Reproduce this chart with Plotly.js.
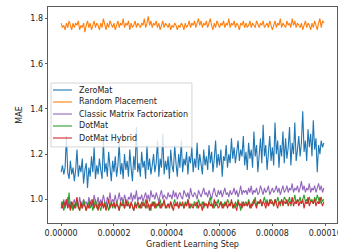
<!DOCTYPE html>
<html>
<head>
<meta charset="utf-8">
<script src="https://cdn.plot.ly/plotly-3.0.1.min.js"></script>
<style>html,body{margin:0;padding:0;background:#fff;}#chart{width:338px;height:252px;}</style>
</head>
<body>
<div id="chart"></div>
<script>
var seriesNames = ["ZeroMat", "Random Placement", "Classic Matrix Factorization", "DotMat", "DotMat Hybrid"];
var stepSize = 5e-7;

var zeroMat = [
1.12,1.15,1.11,1.14,1.28,1.12,1.09,1.17,1.11,1.14,
1.08,1.13,1.22,1.10,1.15,1.12,1.18,1.07,1.13,1.16,
1.05,1.14,1.10,1.19,1.12,1.23,1.09,1.15,1.11,1.18,
1.13,1.09,1.26,1.12,1.16,1.10,1.21,1.14,1.08,1.17,
1.12,1.19,1.10,1.15,1.25,1.11,1.16,1.09,1.20,1.13,
1.17,1.10,1.22,1.14,1.08,1.19,1.13,1.32,1.12,1.16,
1.10,1.21,1.14,1.17,1.09,1.24,1.13,1.18,1.11,1.15,
1.20,1.12,1.16,1.26,1.10,1.18,1.14,1.29,1.11,1.17,
1.13,1.19,1.09,1.22,1.15,1.12,1.24,1.16,1.10,1.20,
1.14,1.26,1.12,1.18,1.15,1.21,1.11,1.19,1.16,1.23,
1.12,1.18,1.14,1.25,1.13,1.20,1.16,1.11,1.22,1.15,
1.19,1.13,1.24,1.16,1.21,1.12,1.18,1.26,1.14,1.20,
1.15,1.22,1.10,1.19,1.17,1.24,1.14,1.20,1.16,1.27,
1.18,1.23,1.16,1.21,1.26,1.17,1.22,1.19,1.28,1.15,
1.21,1.13,1.25,1.18,1.22,1.14,1.30,1.19,1.24,1.12,
1.20,1.27,1.16,1.33,1.19,1.24,1.13,1.22,1.28,1.17,
1.23,1.15,1.34,1.20,1.26,1.14,1.24,1.19,1.30,1.16,
1.27,1.18,1.23,1.32,1.15,1.25,1.20,1.34,1.17,1.22,
1.28,1.19,1.25,1.39,1.21,1.26,1.17,1.31,1.23,1.29,
1.19,1.35,1.22,1.27,1.12,1.24,1.20,1.26,1.23,1.25];

var randomPlacement = [
1.78,1.76,1.77,1.75,1.78,1.76,1.79,1.77,1.75,1.78,
1.76,1.78,1.77,1.79,1.75,1.77,1.76,1.78,1.74,1.77,
1.79,1.76,1.78,1.75,1.77,1.79,1.76,1.78,1.77,1.75,
1.78,1.76,1.80,1.77,1.75,1.78,1.76,1.79,1.77,1.76,
1.78,1.75,1.77,1.79,1.76,1.78,1.77,1.80,1.76,1.78,
1.77,1.79,1.75,1.78,1.76,1.77,1.79,1.76,1.78,1.77,
1.76,1.78,1.77,1.80,1.76,1.78,1.81,1.77,1.79,1.76,
1.78,1.77,1.79,1.76,1.78,1.75,1.77,1.79,1.76,1.78,
1.77,1.76,1.78,1.75,1.77,1.76,1.78,1.77,1.75,1.77,
1.76,1.78,1.77,1.75,1.78,1.76,1.77,1.79,1.76,1.78,
1.77,1.79,1.76,1.78,1.80,1.77,1.79,1.76,1.78,1.77,
1.79,1.76,1.78,1.80,1.77,1.75,1.78,1.76,1.79,1.77,
1.76,1.78,1.77,1.79,1.76,1.78,1.77,1.80,1.76,1.78,
1.77,1.79,1.76,1.78,1.77,1.75,1.78,1.77,1.79,1.76,
1.78,1.76,1.77,1.79,1.76,1.78,1.77,1.76,1.79,1.77,
1.76,1.78,1.77,1.79,1.76,1.77,1.78,1.76,1.79,1.77,
1.75,1.77,1.79,1.76,1.78,1.77,1.80,1.76,1.78,1.77,
1.76,1.79,1.77,1.78,1.76,1.80,1.77,1.79,1.76,1.78,
1.77,1.76,1.78,1.75,1.77,1.79,1.76,1.78,1.77,1.75,
1.78,1.76,1.79,1.77,1.75,1.78,1.80,1.76,1.79,1.78];

var classicMF = [
0.99,0.97,1.00,0.96,0.98,1.01,0.97,0.99,0.96,0.98,
1.00,0.97,0.99,0.96,1.01,0.98,0.97,1.00,0.98,0.99,
0.97,1.01,0.98,1.00,0.97,1.02,0.99,0.98,1.01,0.97,
1.00,0.98,1.02,0.99,0.97,1.01,0.99,1.03,0.98,1.00,
0.99,1.02,0.98,1.00,1.03,0.99,1.01,0.98,1.02,1.00,
0.98,1.01,1.00,1.03,0.99,1.02,1.00,1.04,0.99,1.01,
1.00,1.02,0.99,1.01,1.03,1.00,1.02,0.99,1.04,1.01,
1.02,1.00,1.03,1.01,0.99,1.02,1.04,1.00,1.02,1.01,
1.00,1.03,1.01,1.02,1.00,1.04,1.01,1.03,1.00,1.02,
1.03,1.01,1.00,1.04,1.02,1.01,1.03,1.00,1.05,1.02,
1.01,1.03,1.02,1.00,1.04,1.02,1.01,1.03,1.05,1.02,
1.03,1.01,1.04,1.02,1.00,1.03,1.05,1.02,1.01,1.04,
1.02,1.04,1.01,1.03,1.05,1.02,1.03,1.01,1.04,1.02,
1.03,1.05,1.02,1.04,1.01,1.03,1.06,1.02,1.04,1.03,
1.04,1.02,1.05,1.03,1.06,1.02,1.04,1.03,1.05,1.02,
1.03,1.06,1.04,1.02,1.05,1.03,1.04,1.06,1.02,1.04,
1.05,1.03,1.04,1.06,1.03,1.05,1.02,1.04,1.06,1.03,
1.04,1.06,1.03,1.05,1.04,1.07,1.03,1.05,1.04,1.06,
1.03,1.05,1.08,1.04,1.06,1.03,1.05,1.04,1.07,1.03,
1.05,1.04,1.06,1.03,1.05,1.07,1.04,1.06,1.03,1.05];

var dotMat = [
0.96,0.99,0.95,0.98,1.00,0.97,1.03,0.96,0.98,0.95,
0.98,0.96,0.99,0.97,0.95,0.98,0.96,1.00,0.97,0.95,
0.97,0.99,0.96,0.98,0.95,0.97,1.00,0.96,0.98,0.97,
0.95,0.98,0.97,0.99,0.96,0.98,0.95,0.97,0.99,0.96,
0.98,0.96,0.99,0.97,0.95,0.98,0.97,1.00,0.96,0.98,
0.97,0.99,0.96,0.98,0.97,0.95,0.99,0.97,0.98,0.96,
0.98,0.96,0.99,0.97,1.00,0.96,0.98,0.97,0.95,0.99,
0.97,0.99,0.96,0.98,0.97,1.00,0.96,0.98,0.99,0.97,
0.96,0.98,0.97,0.99,0.96,0.98,1.00,0.97,0.98,0.96,
0.99,0.97,0.98,0.96,0.99,0.97,1.00,0.98,0.96,0.98,
0.97,0.99,0.98,0.96,1.00,0.98,0.97,0.99,0.96,0.98,
0.98,0.97,0.99,1.01,0.97,0.98,0.96,0.99,0.98,1.00,
0.97,0.99,0.98,0.96,0.99,0.97,1.00,0.98,0.97,0.99,
0.98,0.96,0.99,0.97,1.00,0.98,0.95,0.99,0.97,0.98,
0.99,0.97,1.00,0.98,0.96,0.99,0.98,1.01,0.97,0.99,
0.98,1.00,0.97,0.99,1.01,0.98,1.00,0.97,0.99,1.00,
0.99,0.97,1.00,0.98,1.01,0.99,0.97,1.00,0.98,1.01,
1.00,0.98,0.99,1.01,0.97,1.00,0.99,1.02,0.98,1.00,
0.99,1.01,0.98,1.00,1.02,0.99,1.00,0.98,1.01,0.99,
1.00,0.98,1.01,0.99,1.02,1.00,0.98,1.01,0.99,1.00];

var dotMatHybrid = [
0.98,0.96,0.99,0.97,1.00,0.96,0.98,0.95,0.99,0.97,
0.96,0.98,1.01,0.97,0.95,0.99,0.96,0.98,0.97,0.95,
0.98,0.96,0.99,0.97,1.00,0.96,0.98,0.97,0.95,0.99,
0.97,0.99,0.96,0.98,0.95,0.97,1.00,0.96,0.98,0.97,
0.99,0.96,0.98,0.97,0.95,0.99,0.97,0.98,0.96,1.00,
0.97,0.98,0.96,0.99,0.97,0.95,0.98,0.96,0.99,0.97,
0.96,0.99,0.97,0.98,0.96,1.00,0.97,0.95,0.98,0.97,
0.99,0.96,0.98,0.97,0.99,0.96,0.98,0.97,1.00,0.96,
0.97,0.98,0.96,0.99,0.97,0.95,0.98,0.97,0.99,0.96,
0.98,0.97,0.99,0.96,0.98,0.97,1.00,0.96,0.98,0.97,
0.96,0.98,0.97,0.99,0.96,0.98,0.97,0.95,0.99,0.97,
0.98,0.96,0.99,0.97,0.98,0.96,1.00,0.97,0.98,0.96,
0.97,0.99,0.96,0.98,0.97,0.99,0.96,0.98,0.97,1.00,
0.96,0.98,0.97,0.95,0.99,0.97,0.98,0.96,0.99,0.97,
0.98,0.97,0.99,0.96,0.98,0.97,1.00,0.98,0.96,0.99,
0.98,1.00,0.97,0.99,0.98,0.96,0.99,0.97,1.00,0.98,
0.99,0.97,1.00,0.98,0.96,0.99,0.98,1.00,0.97,0.99,
0.98,1.00,0.97,0.99,0.98,1.01,0.97,0.99,0.98,1.00,
0.97,0.99,0.98,1.00,0.96,0.99,0.98,1.01,0.97,0.99,
0.99,0.98,1.00,0.97,0.99,0.98,1.01,0.99,0.97,0.99];

var xTickVals = [0, 0.00002, 0.00004, 0.00006, 0.00008, 0.0001];
var yTickVals = [1.0, 1.2, 1.4, 1.6, 1.8];

var colors = ["#1f77b4", "#ff7f0e", "#9467bd", "#2ca02c", "#d62728"];
var allSeries = [zeroMat, randomPlacement, classicMF, dotMat, dotMatHybrid];

var steps = zeroMat.map(function(_, i){ return i * stepSize; });

var traces = allSeries.map(function(s, k){
  return {x: steps, y: s, type: "scatter", mode: "lines", name: seriesNames[k],
          line: {color: colors[k], width: 1.1}, showlegend: false, hoverinfo: "skip"};
});

var font = {family: "DejaVu Sans, sans-serif", size: 8, color: "#222"};

var shapes = [{type: "rect", xref: "paper", yref: "paper", x0: 0.0104, x1: 0.498, y0: 0.352, y1: 0.648,
  fillcolor: "rgba(255,255,255,0.8)", line: {color: "#cccccc", width: 0.8}, layer: "above"}];
var annotations = [];
var entryY = [0.6157, 0.5602, 0.5046, 0.4491, 0.3935];
seriesNames.forEach(function(n, k){
  shapes.push({type: "line", xref: "paper", yref: "paper", x0: 0.0173, x1: 0.083, y0: entryY[k], y1: entryY[k],
    line: {color: colors[k], width: 1.1}, layer: "above"});
  annotations.push({xref: "paper", yref: "paper", x: 0.1004, y: entryY[k], xanchor: "left", yanchor: "middle",
    text: n, showarrow: false, font: font});
});

var layout = {
  width: 338, height: 252,
  margin: {l: 48, r: 1, t: 7, b: 29},
  paper_bgcolor: "#fff", plot_bgcolor: "#fff",
  font: font,
  showlegend: false,
  xaxis: {range: [-4.975e-6, 1.04475e-4], tickvals: xTickVals, tickformat: ".5f",
    ticks: "outside", ticklen: 2.5, tickwidth: 0.8, tickcolor: "#333", ticklabeloverflow: "allow",
    showline: true, mirror: true, linecolor: "#333", linewidth: 0.8, showgrid: false, zeroline: false,
    title: {text: "Gradient Learning Step", font: font, standoff: 4}},
  yaxis: {range: [0.895, 1.851], tickvals: yTickVals, tickformat: ".1f",
    ticks: "outside", ticklen: 2.5, tickwidth: 0.8, tickcolor: "#333",
    showline: true, mirror: true, linecolor: "#333", linewidth: 0.8, showgrid: false, zeroline: false,
    title: {text: "MAE", font: font, standoff: 6}},
  shapes: shapes,
  annotations: annotations
};

Plotly.newPlot("chart", traces, layout, {staticPlot: true, displayModeBar: false});
</script>
</body>
</html>
